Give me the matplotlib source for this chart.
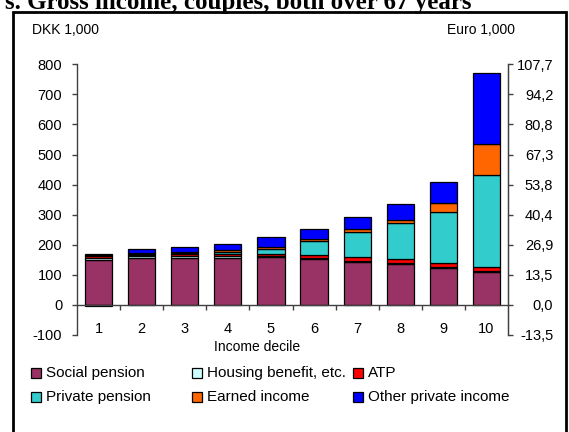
import numpy as np
import matplotlib
matplotlib.use("Agg")
import matplotlib.pyplot as plt
from matplotlib.patches import Rectangle

plt.rcParams['font.family'] = ['Liberation Sans', 'DejaVu Sans']

# Gross income by income decile, DKK 1,000
deciles = [1, 2, 3, 4, 5, 6, 7, 8, 9, 10]
social_pension = [148, 155, 155, 155, 158, 152, 144, 137, 122, 108]
housing_benefit = [7, 6, 7, 8, 4, 3, 3, 3, 5, 5]
atp = [6, 4, 7, 7, 6, 10, 13, 12, 12, 14]
private_pension = [4, 3, 3, 6, 18, 46, 84, 119, 171, 304]
earned_income = [5, 3, 5, 5, 6, 8, 7, 11, 28, 103]
other_private = [-3, 14, 16, 22, 33, 35, 40, 53, 70, 236]

series = [
    ("Social pension", social_pension, "#993366"),
    ("Housing benefit, etc.", housing_benefit, "#CCFFFF"),
    ("ATP", atp, "#FF0000"),
    ("Private pension", private_pension, "#33CCCC"),
    ("Earned income", earned_income, "#FF6600"),
    ("Other private income", other_private, "#0000FF"),
]

dkk_ticks = [-100, 0, 100, 200, 300, 400, 500, 600, 700, 800]
dkk_per_euro = 7.43

W, H = 569, 432
fig = plt.figure(figsize=(W / 100, H / 100), dpi=100)

def fx(px):
    return px / W

def fy(py):
    return 1 - py / H

ax_l, ax_r, ax_t, ax_b = 77, 508, 64.3, 335
ax = fig.add_axes([fx(ax_l), fy(ax_b), fx(ax_r - ax_l), (ax_b - ax_t) / H])

x = np.array(deciles, dtype=float)
pos_bottom = np.zeros(len(x))
neg_bottom = np.zeros(len(x))
for name, vals, color in series:
    v = np.array(vals, dtype=float)
    bottom = np.where(v >= 0, pos_bottom, neg_bottom)
    ax.bar(x, v, width=0.63, bottom=bottom, color=color,
           edgecolor="black", linewidth=0.9, label=name, zorder=2)
    pos_bottom = pos_bottom + np.where(v >= 0, v, 0)
    neg_bottom = neg_bottom + np.where(v < 0, v, 0)

ax.set_xlim(0.5, 10.5)
ax.set_ylim(-100, 800)

ax.spines["top"].set_visible(False)
ax.spines["bottom"].set_position(("data", 0))
for s in ["left", "bottom", "right"]:
    ax.spines[s].set_color("#404040")
    ax.spines[s].set_linewidth(1.0)

ax.set_yticks(dkk_ticks)
ax.set_yticklabels([str(t) for t in dkk_ticks], fontsize=10.5)
ax.tick_params(axis="y", direction="out", length=3.6, width=1, color="#404040", pad=7)

# Category labels centered under bars, tick marks between categories
ax.set_xticks(np.arange(1.5, 10.5, 1.0))
ax.set_xticklabels([])
ax.set_xticks(x, minor=True)
ax.set_xticklabels([str(d) for d in deciles], minor=True, fontsize=10.5)
ax.tick_params(axis="x", which="major", direction="out", length=3.6, width=1, color="#404040")
ax.tick_params(axis="x", which="minor", length=0, pad=12.5)

# Euro axis on the right
ax2 = ax.twinx()
ax2.set_ylim(-100, 800)
ax2.set_yticks(dkk_ticks)
ax2.set_yticklabels([f"{t / dkk_per_euro:.1f}".replace(".", ",") for t in dkk_ticks],
                    fontsize=10.5, ha="right")
ax2.tick_params(axis="y", direction="out", length=3.6, width=1, color="#404040", pad=29)
for s in ["top", "bottom", "left"]:
    ax2.spines[s].set_visible(False)
ax2.spines["right"].set_color("#404040")

fig.text(fx(32), fy(30), "DKK 1,000", fontsize=10, va="center", ha="left")
fig.text(fx(515), fy(30), "Euro 1,000", fontsize=10, va="center", ha="right")
fig.text(fx(257), fy(347), "Income decile", fontsize=10, va="center", ha="center")

fig.text(fx(5), fy(9), "s. Gross income, couples, both over 67 years",
         fontsize=18, fontweight="bold", family="Liberation Serif",
         va="baseline", ha="left")

# Frame around the panel
fig.patches.append(Rectangle((fx(13), fy(470)), fx(566 - 13), (470 - 12) / H,
                             transform=fig.transFigure, fill=False,
                             edgecolor="black", linewidth=2))

# Legend laid out in three columns, two rows
cols = [36, 197, 358]
rows = [373, 397]
for i, (name, _, color) in enumerate(series):
    cx = cols[i % 3]
    cy = rows[i // 3]
    fig.patches.append(Rectangle((fx(cx - 5), fy(cy + 5)), fx(10), 10 / H,
                                 transform=fig.transFigure, facecolor=color,
                                 edgecolor="black", linewidth=0.9))
    fig.text(fx(cx + 10), fy(cy), name, fontsize=11, va="center", ha="left")

fig.savefig("out.png", dpi=100)
